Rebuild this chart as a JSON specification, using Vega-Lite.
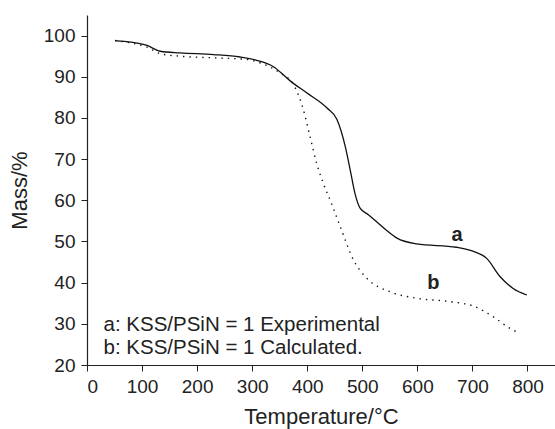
{
  "$schema": "https://vega.github.io/schema/vega-lite/v6.json",
  "width": 468,
  "height": 350,
  "autosize": "none",
  "padding": {"left": 87, "top": 15, "right": 0, "bottom": 64},
  "background": "white",
  "config": {
    "view": {"stroke": null},
    "font": "Liberation Sans",
    "axis": {
      "grid": false,
      "domainColor": "#222",
      "tickColor": "#222",
      "labelColor": "#222",
      "titleColor": "#222",
      "labelFont": "Liberation Sans",
      "titleFont": "Liberation Sans",
      "labelFontSize": 19,
      "titleFontSize": 22,
      "titleFontWeight": "normal",
      "domainWidth": 1.2,
      "tickWidth": 1
    }
  },
  "datasets": {
    "curves": [
      {"series": "a", "T": 51, "mass": 98.8},
      {"series": "a", "T": 80, "mass": 98.4},
      {"series": "a", "T": 109, "mass": 97.6},
      {"series": "a", "T": 133, "mass": 96.2},
      {"series": "a", "T": 169, "mass": 95.8},
      {"series": "a", "T": 230, "mass": 95.4},
      {"series": "a", "T": 278, "mass": 94.8},
      {"series": "a", "T": 308, "mass": 94.0},
      {"series": "a", "T": 338, "mass": 92.5},
      {"series": "a", "T": 369, "mass": 89.0},
      {"series": "a", "T": 399, "mass": 86.1},
      {"series": "a", "T": 436, "mass": 82.4},
      {"series": "a", "T": 454, "mass": 79.6},
      {"series": "a", "T": 469, "mass": 73.1},
      {"series": "a", "T": 478, "mass": 67.4},
      {"series": "a", "T": 487, "mass": 61.5},
      {"series": "a", "T": 496, "mass": 58.1},
      {"series": "a", "T": 511, "mass": 56.5},
      {"series": "a", "T": 526, "mass": 54.8},
      {"series": "a", "T": 545, "mass": 52.6},
      {"series": "a", "T": 563, "mass": 50.8},
      {"series": "a", "T": 599, "mass": 49.4},
      {"series": "a", "T": 671, "mass": 48.6},
      {"series": "a", "T": 702, "mass": 47.6},
      {"series": "a", "T": 726, "mass": 45.9},
      {"series": "a", "T": 750, "mass": 41.5},
      {"series": "a", "T": 774, "mass": 38.6},
      {"series": "a", "T": 799, "mass": 37.0},
      {"series": "b", "T": 51, "mass": 98.8},
      {"series": "b", "T": 80, "mass": 98.2},
      {"series": "b", "T": 109, "mass": 97.2},
      {"series": "b", "T": 133, "mass": 95.6},
      {"series": "b", "T": 169, "mass": 95.0},
      {"series": "b", "T": 230, "mass": 94.6},
      {"series": "b", "T": 290, "mass": 94.2},
      {"series": "b", "T": 320, "mass": 93.1},
      {"series": "b", "T": 351, "mass": 90.9},
      {"series": "b", "T": 375, "mass": 88.1},
      {"series": "b", "T": 384, "mass": 85.6},
      {"series": "b", "T": 393, "mass": 82.0},
      {"series": "b", "T": 405, "mass": 75.5},
      {"series": "b", "T": 417, "mass": 69.0},
      {"series": "b", "T": 429, "mass": 64.2},
      {"series": "b", "T": 445, "mass": 58.9},
      {"series": "b", "T": 460, "mass": 53.6},
      {"series": "b", "T": 484, "mass": 45.5},
      {"series": "b", "T": 508, "mass": 41.1},
      {"series": "b", "T": 550, "mass": 37.8},
      {"series": "b", "T": 599, "mass": 36.2},
      {"series": "b", "T": 659, "mass": 35.4},
      {"series": "b", "T": 702, "mass": 34.3},
      {"series": "b", "T": 738, "mass": 31.7},
      {"series": "b", "T": 768, "mass": 28.9},
      {"series": "b", "T": 786, "mass": 27.7}
    ],
    "legendText": [
      {"T": 30, "mass": 29.7, "label": "a: KSS/PSiN = 1 Experimental"},
      {"T": 30, "mass": 24.2, "label": "b: KSS/PSiN = 1 Calculated."}
    ],
    "curveLabels": [
      {"T": 672, "mass": 51.6, "label": "a"},
      {"T": 629, "mass": 40.0, "label": "b"}
    ]
  },
  "layer": [
    {
      "data": {"name": "curves"},
      "transform": [{"filter": "datum.series === 'a'"}],
      "mark": {"type": "line", "color": "#111", "strokeWidth": 1.3, "interpolate": "monotone"},
      "encoding": {
        "x": {
          "field": "T", "type": "quantitative",
          "scale": {"domain": [0, 850], "nice": false, "zero": false},
          "axis": {
            "title": "Temperature/°C",
            "values": [0, 50, 100, 150, 200, 250, 300, 350, 400, 450, 500, 550, 600, 650, 700, 750, 800],
            "labelExpr": "datum.value % 100 === 0 ? datum.label : ''",
            "tickSize": {"condition": {"test": "datum.value % 100 === 0", "value": 6}, "value": 3},
            "labelPadding": 6,
            "labelOverlap": false,
            "titlePadding": 10
          }
        },
        "y": {
          "field": "mass", "type": "quantitative",
          "scale": {"domain": [20, 105], "nice": false, "zero": false},
          "axis": {
            "title": "Mass/%",
            "values": [20, 25, 30, 35, 40, 45, 50, 55, 60, 65, 70, 75, 80, 85, 90, 95, 100, 105],
            "labelExpr": "datum.value % 10 === 0 ? datum.label : ''",
            "tickSize": {"condition": {"test": "datum.value % 10 === 0", "value": 6}, "value": 3},
            "labelPadding": 6,
            "labelOverlap": false,
            "titlePadding": 12
          }
        }
      }
    },
    {
      "data": {"name": "curves"},
      "transform": [{"filter": "datum.series === 'b'"}],
      "mark": {"type": "line", "color": "#111", "strokeWidth": 1.4, "strokeDash": [1.4, 5], "interpolate": "monotone"},
      "encoding": {
        "x": {"field": "T", "type": "quantitative"},
        "y": {"field": "mass", "type": "quantitative"}
      }
    },
    {
      "data": {"name": "legendText"},
      "mark": {"type": "text", "align": "left", "baseline": "middle", "fontSize": 20.5, "color": "#222", "font": "Liberation Sans"},
      "encoding": {
        "x": {"field": "T", "type": "quantitative"},
        "y": {"field": "mass", "type": "quantitative"},
        "text": {"field": "label"}
      }
    },
    {
      "data": {"name": "curveLabels"},
      "mark": {"type": "text", "align": "center", "baseline": "middle", "fontSize": 20, "fontWeight": "bold", "color": "#222", "font": "Liberation Sans"},
      "encoding": {
        "x": {"field": "T", "type": "quantitative"},
        "y": {"field": "mass", "type": "quantitative"},
        "text": {"field": "label"}
      }
    }
  ]
}
